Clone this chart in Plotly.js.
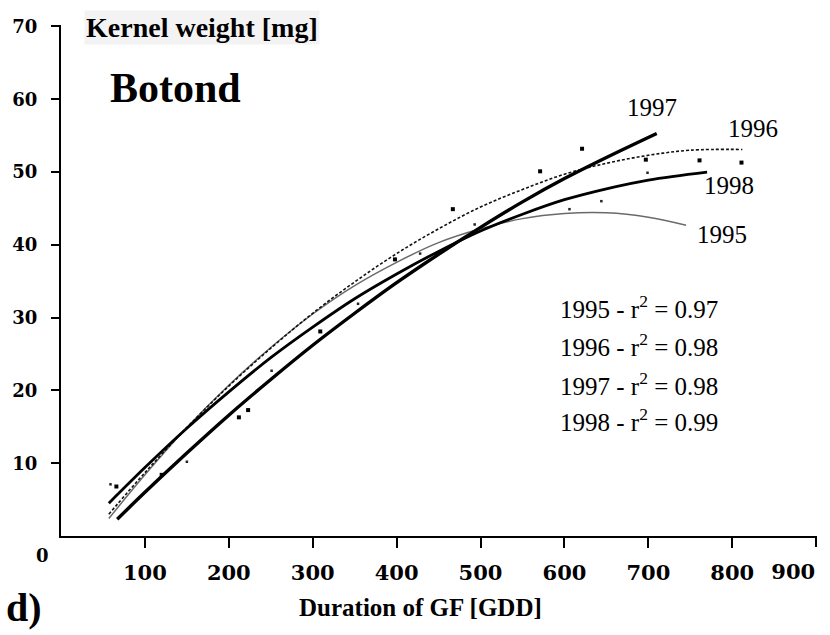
<!DOCTYPE html>
<html>
<head>
<meta charset="utf-8">
<script src="https://cdn.plot.ly/plotly-3.0.1.min.js"></script>
<style>
  html, body { margin: 0; padding: 0; background: #ffffff; }
  #chart { width: 830px; height: 635px; }
</style>
</head>
<body>
<div id="chart"></div>
<script>
// ---- data ----
const years = ['1995', '1996', '1997', '1998'];
const r2Values = ['0.97', '0.98', '0.98', '0.99'];

const fit1995X = [57, 100, 150, 200, 250, 300, 350, 400, 450, 500, 550, 600, 650, 700, 745];
const fit1995Y = [2.4, 8.4, 14.9, 20.7, 25.9, 30.5, 34.4, 37.6, 40.3, 42.2, 43.6, 44.3, 44.4, 43.8, 42.7];

const fit1996X = [57, 100, 150, 200, 250, 300, 350, 400, 450, 500, 550, 600, 650, 700, 750, 812];
const fit1996Y = [3.0, 8.7, 14.9, 20.6, 25.8, 30.6, 34.9, 38.8, 42.2, 45.2, 47.6, 49.7, 51.2, 52.3, 53.0, 53.1];

const fit1997X = [67, 100, 150, 200, 250, 300, 350, 400, 450, 500, 550, 600, 650, 710];
const fit1997Y = [2.3, 6.0, 11.4, 16.6, 21.5, 26.2, 30.6, 34.8, 38.7, 42.4, 45.9, 49.1, 52.0, 55.3];

const fit1998X = [57, 100, 150, 200, 250, 300, 350, 400, 450, 500, 550, 600, 650, 700, 770];
const fit1998Y = [4.5, 9.4, 14.8, 19.8, 24.5, 28.7, 32.6, 36.0, 39.1, 41.9, 44.2, 46.2, 47.7, 48.9, 50.0];

const obsLargeX = [66, 120, 212, 223, 309, 398, 467, 571, 621, 697, 761, 811];
const obsLargeY = [6.8, 8.4, 16.3, 17.3, 28.1, 38.0, 44.9, 50.1, 53.2, 51.7, 51.6, 51.3];
const obsSmallX = [59, 150, 251, 354, 428, 493, 606, 644, 699];
const obsSmallY = [7.1, 10.2, 22.7, 31.9, 38.8, 42.8, 44.9, 46.0, 49.9];

const xTickVals = [100, 200, 300, 400, 500, 600, 700, 800];
const xTickText = ['100', '200', '300', '400', '500', '600', '700', '800'];
const xLastTickVal = [900];
const xLastTickText = ['900'];
const yTickVals = [10, 20, 30, 40, 50, 60, 70];
const yTickText = ['10', '20', '30', '40', '50', '60', '70'];

// ---- traces ----
const traces = [
  { x: fit1995X, y: fit1995Y, mode: 'lines', line: { color: '#6a6a6a', width: 1.5, shape: 'spline' }, name: '1995' },
  { x: fit1996X, y: fit1996Y, mode: 'lines', line: { color: '#111111', width: 1.6, dash: '3px,2px', shape: 'spline' }, name: '1996' },
  { x: fit1997X, y: fit1997Y, mode: 'lines', line: { color: '#000000', width: 3.4, shape: 'spline' }, name: '1997' },
  { x: fit1998X, y: fit1998Y, mode: 'lines', line: { color: '#000000', width: 2.8, shape: 'spline' }, name: '1998' },
  { x: obsLargeX, y: obsLargeY, mode: 'markers', marker: { symbol: 'square', size: 4, color: '#000' }, name: 'obs' },
  { x: obsSmallX, y: obsSmallY, xaxis: 'x2', mode: 'markers', marker: { symbol: 'square', size: 2.5, color: '#222' }, name: 'obs2' }
];

const serif = 'Liberation Serif';
const wideSerif = 'DejaVu Serif';

// label positions for the curve names (data units)
const yearLabelPos = { '1997': [704, 58.8], '1996': [825, 56.0], '1998': [796, 48.2], '1995': [788, 41.4] };
const annotations = [];
years.forEach(function (yr) {
  annotations.push({ x: yearLabelPos[yr][0], y: yearLabelPos[yr][1], xref: 'x', yref: 'y', text: yr,
    showarrow: false, xanchor: 'center', yanchor: 'middle', font: { family: serif, size: 25, color: '#000' } });
});
const r2Y = [31.4, 26.2, 20.9, 15.9];
years.forEach(function (yr, i) {
  annotations.push({ x: 592, y: r2Y[i], xref: 'x', yref: 'y', text: yr + ' - r<sup>2</sup> = ' + r2Values[i],
    showarrow: false, xanchor: 'left', yanchor: 'middle', font: { family: serif, size: 25, color: '#000' } });
});
annotations.push({ x: 0.186, y: 0.996, xref: 'paper', yref: 'paper', text: '<b>Kernel weight [mg]</b>',
  showarrow: false, xanchor: 'center', yanchor: 'middle', bgcolor: '#f3f3f3',
  font: { family: serif, size: 28, color: '#000' } });
annotations.push({ x: 56, y: 61.5, xref: 'x', yref: 'y', text: '<b>Botond</b>',
  showarrow: false, xanchor: 'left', yanchor: 'middle', font: { family: serif, size: 42, color: '#000' } });
annotations.push({ x: -0.049, y: -0.139, xref: 'paper', yref: 'paper', text: '<b>d)</b>',
  showarrow: false, xanchor: 'center', yanchor: 'middle', font: { family: serif, size: 40, color: '#000' } });
annotations.push({ x: 0.475, y: -0.139, xref: 'paper', yref: 'paper', text: '<b>Duration of GF [GDD]</b>',
  showarrow: false, xanchor: 'center', yanchor: 'middle', font: { family: serif, size: 25, color: '#000' } });
annotations.push({ x: -0.025, y: -0.039, xref: 'paper', yref: 'paper', text: '<b>0</b>',
  showarrow: false, xanchor: 'center', yanchor: 'middle', font: { family: wideSerif, size: 18, color: '#000' } });

// small cross at the origin (axis ends)
const shapes = [
  { type: 'line', xref: 'x', yref: 'y', xsizemode: 'pixel', xanchor: 0, x0: -8, x1: 0, y0: 0, y1: 0,
    line: { color: '#000', width: 2 } },
  { type: 'line', xref: 'x', yref: 'y', ysizemode: 'pixel', yanchor: 0, y0: -10, y1: 0, x0: 0, x1: 0,
    line: { color: '#000', width: 2 } }
];

const xTickFont = { family: wideSerif, size: 21, color: '#000', weight: 'bold' };

const layout = {
  width: 830, height: 635,
  margin: { l: 61, r: 13, t: 25, b: 99 },
  paper_bgcolor: '#ffffff', plot_bgcolor: '#ffffff',
  showlegend: false,
  xaxis: {
    range: [0, 901], showgrid: false, zeroline: false,
    showline: true, linecolor: '#000', linewidth: 2,
    ticks: 'outside', ticklen: 10, tickwidth: 2, tickcolor: '#000',
    tickmode: 'array', tickvals: xTickVals, ticktext: xTickText,
    ticklabelstandoff: 7,
    tickfont: xTickFont
  },
  xaxis2: {
    overlaying: 'x', matches: 'x', anchor: 'y', side: 'bottom',
    showgrid: false, zeroline: false, showline: false,
    ticks: 'outside', ticklen: 10, tickwidth: 2, tickcolor: '#000',
    tickmode: 'array', tickvals: xLastTickVal, ticktext: xLastTickText,
    ticklabelposition: 'outside left', ticklabelstandoff: 17,
    tickfont: xTickFont
  },
  yaxis: {
    range: [0, 70.2], showgrid: false, zeroline: false,
    showline: true, linecolor: '#000', linewidth: 2,
    ticks: 'outside', ticklen: 8, tickwidth: 2, tickcolor: '#000',
    tickmode: 'array', tickvals: yTickVals, ticktext: yTickText,
    ticklabelstandoff: 10,
    tickfont: { family: wideSerif, size: 18, color: '#000', weight: 'bold' }
  },
  shapes: shapes,
  annotations: annotations
};

Plotly.newPlot('chart', traces, layout, { staticPlot: true, displayModeBar: false });
</script>
</body>
</html>
